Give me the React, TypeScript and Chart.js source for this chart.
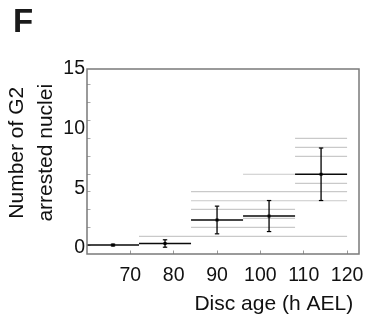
import React, { useEffect, useRef } from "react";
import { Chart, registerables } from "chart.js";

Chart.register(...registerables);

// ---- data ----
const BIN_STARTS = [60, 72, 84, 96, 108];
const BIN_ENDS = [72, 84, 96, 108, 120];
const BIN_CENTERS = [66, 78, 90, 102, 114];
const MEANS = [0.25, 0.38, 2.35, 2.68, 6.18];
const ERRORS = [0.07, 0.31, 1.16, 1.3, 2.2];
const OBS_BIN1: number[] = [];
const OBS_BIN2 = [0.98];
const OBS_BIN3 = [4.72, 3.96, 3.24, 1.73, 0.98];
const OBS_BIN4 = [6.18, 4.72, 3.96, 3.24, 2.49, 1.73, 0.98];
const OBS_BIN5 = [9.19, 8.44, 7.68, 5.42, 4.72, 3.96, 0.98];
const X_TICKS = [70, 80, 90, 100, 110, 120];
const Y_LABEL_TICKS = [0, 5, 10, 15];
const Y_MINOR_TICKS = [0.2, 1.7, 3.2, 4.7, 6.2, 7.7, 9.2, 10.7, 12.2, 13.7];
const X_TITLE = "Disc age (h AEL) ";
const Y_TITLE = ["   Number of G2", "   arrested nuclei"];
const PANEL_LABEL = "F";

const FONT = "'Liberation Sans', Arial, Helvetica, sans-serif";

type Pt = { x: number; y: number | null };

function hSegments(values: number[][]): Pt[] {
  const pts: Pt[] = [];
  values.forEach((vals, i) => {
    vals.forEach((v) => {
      pts.push({ x: BIN_STARTS[i], y: v }, { x: BIN_ENDS[i], y: v }, { x: BIN_ENDS[i], y: null });
    });
  });
  return pts;
}

function vSegments(): Pt[] {
  const pts: Pt[] = [];
  MEANS.forEach((m, i) => {
    pts.push(
      { x: BIN_CENTERS[i], y: m - ERRORS[i] },
      { x: BIN_CENTERS[i], y: m + ERRORS[i] },
      { x: BIN_CENTERS[i], y: null }
    );
  });
  return pts;
}

function capPoints(): Pt[] {
  const pts: Pt[] = [];
  MEANS.forEach((m, i) => {
    pts.push({ x: BIN_CENTERS[i], y: m - ERRORS[i] }, { x: BIN_CENTERS[i], y: m + ERRORS[i] });
  });
  return pts;
}

const framePlugin = {
  id: "frame",
  afterDatasetsDraw(chart: any) {
    const { ctx, chartArea: a } = chart;
    ctx.save();
    ctx.strokeStyle = "#7a7a7a";
    ctx.lineWidth = 1.5;
    ctx.strokeRect(a.left, a.top, a.right - a.left, a.bottom - a.top);
    ctx.restore();
  },
};

export default function App() {
  const ref = useRef<HTMLCanvasElement>(null);

  useEffect(() => {
    const canvas = ref.current;
    if (!canvas) return;
    const obs = [OBS_BIN1, OBS_BIN2, OBS_BIN3, OBS_BIN4, OBS_BIN5];
    const meanVals = MEANS.map((m) => [m]);

    const noPoint = { pointRadius: 0, pointHoverRadius: 0 };

    const chart = new Chart(canvas, {
      type: "line",
      data: {
        datasets: [
          {
            data: MEANS.map((m, i) => ({ x: BIN_CENTERS[i], y: m })),
            showLine: false,
            pointStyle: "rect",
            pointRadius: 2.1,
            pointHoverRadius: 2.1,
            pointBackgroundColor: "#000",
            pointBorderWidth: 0,
          },
          {
            data: capPoints(),
            showLine: false,
            pointStyle: "line",
            pointRadius: 2.2,
            pointHoverRadius: 2.2,
            pointBorderColor: "#000",
            pointBorderWidth: 1.2,
          },
          {
            data: vSegments(),
            borderColor: "#000",
            borderWidth: 1.3,
            ...noPoint,
          },
          {
            data: hSegments(meanVals),
            borderColor: "#0a0a0a",
            borderWidth: 1.6,
            ...noPoint,
          },
          {
            data: hSegments(obs),
            borderColor: "#c9c9c9",
            borderWidth: 1.2,
            ...noPoint,
          },
        ] as any,
      },
      options: {
        responsive: false,
        animation: false,
        events: [],
        layout: { padding: { top: 69, right: 9, bottom: 0, left: 0 } },
        plugins: { legend: { display: false }, tooltip: { enabled: false } },
        scales: {
          x: {
            type: "linear",
            min: 60,
            max: 122.75,
            afterBuildTicks: (scale: any) => {
              scale.ticks = X_TICKS.map((v) => ({ value: v }));
            },
            afterFit: (scale: any) => {
              scale.height = 66;
              scale.paddingLeft = 0;
              scale.paddingRight = 0;
            },
            border: { display: false },
            grid: {
              display: true,
              drawOnChartArea: false,
              drawTicks: true,
              tickLength: -3.5,
              tickColor: "#999",
              tickWidth: 1,
            },
            ticks: {
              autoSkip: false,
              maxRotation: 0,
              padding: 13.5,
              color: "#111",
              font: { family: FONT, size: 19.5 },
            },
            title: {
              display: true,
              text: X_TITLE,
              align: "end",
              color: "#111",
              font: { family: FONT, size: 21, lineHeight: 1.2 },
              padding: { top: 0, bottom: 3 },
            },
          },
          y: {
            type: "linear",
            min: -0.5,
            max: 15,
            afterBuildTicks: (scale: any) => {
              const vals = [...Y_LABEL_TICKS, ...Y_MINOR_TICKS].sort((a, b) => a - b);
              scale.ticks = vals.map((v) => ({ value: v }));
            },
            afterFit: (scale: any) => {
              scale.width = 87;
              scale.paddingTop = 0;
              scale.paddingBottom = 0;
            },
            border: { display: false },
            grid: {
              display: true,
              drawOnChartArea: false,
              drawTicks: true,
              tickLength: -3.5,
              tickWidth: 1,
              tickColor: (ctx: any) =>
                Y_LABEL_TICKS.includes(ctx.tick?.value) ? "rgba(0,0,0,0)" : "#aaa",
            },
            ticks: {
              autoSkip: false,
              padding: 5.5,
              color: "#111",
              font: { family: FONT, size: 19.5 },
              callback: (v: any) => (Y_LABEL_TICKS.includes(Number(v)) ? String(v) : ""),
            },
            title: {
              display: true,
              text: Y_TITLE,
              color: "#111",
              font: { family: FONT, size: 21, lineHeight: 29 / 21 },
              padding: { top: 3.2, bottom: 0 },
            },
          },
        },
      } as any,
      plugins: [framePlugin],
    });

    return () => chart.destroy();
  }, []);

  return (
    <div style={{ position: "absolute", left: 0, top: 0, width: 368, height: 320, background: "#fff" }}>
      <canvas ref={ref} width={368} height={320} style={{ display: "block" }} />
      <div
        style={{
          position: "absolute",
          left: 13,
          top: 4,
          fontFamily: FONT,
          fontWeight: "bold",
          fontSize: 33,
          lineHeight: "33px",
          color: "#1a1a1a",
        }}
      >
        {PANEL_LABEL}
      </div>
    </div>
  );
}
